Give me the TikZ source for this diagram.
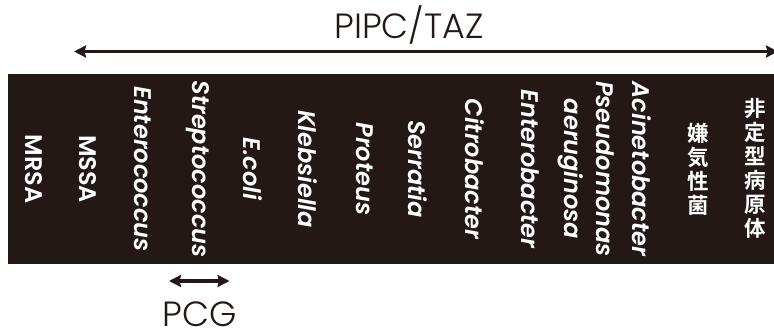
\documentclass[tikz,border=0pt]{standalone}
\usepackage{fontspec}
\setmainfont{Poppins}[
  BoldFont={Poppins SemiBold},
  BoldItalicFont={Poppins SemiBold Italic}]
\newfontfamily\lightfont{Poppins Light}
\newfontfamily\jpfont{Noto Sans CJK JP Bold}
\usetikzlibrary{arrows.meta}
\definecolor{ink}{HTML}{231815}
\tikzset{
  spanarrow/.style={draw=ink, line width=3.5pt,
    {Stealth[length=12pt,width=12pt,inset=1.5pt]}-{Stealth[length=12pt,width=12pt,inset=1.5pt]}},
  rangelabel/.style={text=ink, inner sep=0pt, font=\lightfont\fontsize{35}{40}\selectfont},
  bandlabel/.style={rotate=-90, text=white, inner sep=0pt, align=center,
    font=\fontsize{24}{32}\selectfont\bfseries},
  genus/.style={bandlabel, font=\fontsize{24}{32}\selectfont\bfseries\itshape},
  jplabel/.style={text=white, inner sep=0pt, align=center,
    font=\jpfont\fontsize{21.5}{24}\selectfont}
}
\begin{document}
\begin{tikzpicture}[x=1pt,y=-1pt]
\useasboundingbox (0,0) rectangle (774,334);

% dark band carrying the organism names
\fill[ink] (8,74) rectangle (780,264);

% PIPC/TAZ spectrum
\node[rangelabel] (pipc) at (409,25) {PIPC/TAZ};
\coordinate (pipcL) at (74,51.5);
\coordinate (pipcR) at (778,51.5);
\draw[spanarrow] (pipcL) -- (pipcR);

% organisms
\node[bandlabel] (mrsa)   at (34,169)  {MRSA};
\node[bandlabel] (mssa)   at (88,169)  {MSSA};
\node[genus] (entc)   at (143,169) {Enterococcus};
\node[genus] (strep)  at (198,169) {Streptococcus};
\node[genus] (ecoli)  at (253,169) {E.coli};
\node[genus] (kleb)   at (308,169) {Klebsiella};
\node[genus] (prot)   at (365,169) {Proteus};
\node[genus] (serr)   at (418,169) {Serratia};
\node[genus] (citro)  at (475,169) {Citrobacter};
\node[genus] (entb)   at (530,169) {Enterobacter};
\node[genus] (pseu)   at (586,169) {Pseudomonas\\aeruginosa};
\node[genus] (acin)   at (642,169) {Acinetobacter};
\node[jplabel] (anaer) at (698,169) {嫌\\気\\性\\菌};
\node[jplabel] (atyp)  at (755,168) {非\\定\\型\\病\\原\\体};

% PCG spectrum
\coordinate (pcgL) at (169,281);
\coordinate (pcgR) at (229.5,281);
\draw[spanarrow] (pcgL) -- (pcgR);
\node[rangelabel] (pcg) at (199.5,314) {PCG};
\end{tikzpicture}
\end{document}
